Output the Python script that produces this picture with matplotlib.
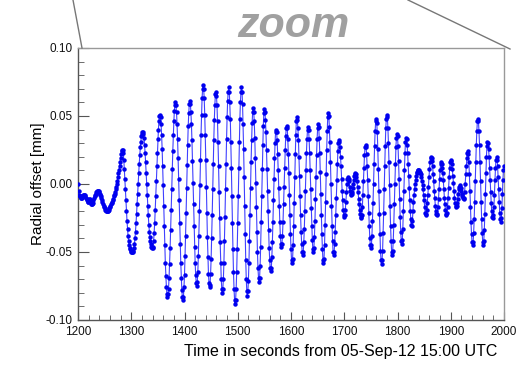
import numpy as np
import matplotlib
matplotlib.use("Agg")
import matplotlib.pyplot as plt
from matplotlib.lines import Line2D
from matplotlib.ticker import MultipleLocator, FormatStrFormatter

plt.rcParams['font.family'] = ['Liberation Sans', 'DejaVu Sans']
plt.rcParams['axes.unicode_minus'] = False

# radial offset, one sample per second, in micrometres
offset_1200s = [
    0, -5, -8, -9, -9, -10, -10, -10, -9, -9,
    -8, -8, -8, -8, -9, -10, -11, -12, -13, -13,
    -12, -11, -11, -12, -14, -15, -15, -15, -14, -12,
    -10, -9, -8, -7, -6, -6, -5, -5, -5, -5,
    -6, -7, -8, -9, -10, -12, -13, -15, -16, -17,
    -18, -19, -19, -20, -20, -20, -20, -20, -19, -18,
    -17, -16, -15, -14, -13, -12, -11, -9, -8, -7,
    -6, -4, -2, 0, 2, 5, 8, 10, 13, 16,
    19, 22, 24, 25, 25, 23, 18, 11, 4, -4,
    -12, -20, -27, -33, -38, -42, -45, -47, -48, -49,
]
offset_1300s = [
    -50, -50, -50, -50, -49, -47, -44, -40, -35, -29,
    -22, -15, -7, 0, 8, 15, 21, 27, 31, 35,
    37, 38, 38, 37, 34, 29, 23, 16, 8, 0,
    -8, -16, -23, -30, -35, -39, -42, -44, -46, -47,
    -47, -46, -42, -36, -29, -19, -9, 2, 13, 23,
    33, 40, 46, 50, 51, 49, 44, 36, 26, 13,
    -1, -16, -31, -45, -58, -68, -76, -81, -83, -81,
    -77, -69, -59, -47, -34, -19, -4, 11, 24, 36,
    46, 54, 58, 60, 58, 53, 44, 33, 19, 4,
    -12, -29, -44, -58, -69, -78, -83, -85, -83, -76,
]
offset_1400s = [
    -67, -53, -38, -21, -3, 14, 29, 43, 52, 59,
    61, 59, 53, 44, 32, 17, 1, -15, -31, -46,
    -58, -67, -73, -75, -72, -65, -53, -38, -20, -1,
    18, 36, 51, 63, 70, 73, 70, 63, 51, 36,
    18, -2, -21, -39, -54, -66, -73, -76, -74, -66,
    -55, -40, -23, -4, 15, 32, 47, 58, 66, 68,
    65, 58, 46, 31, 13, -6, -25, -43, -58, -70,
    -77, -80, -77, -70, -58, -42, -24, -4, 15, 33,
    49, 61, 68, 71, 68, 60, 48, 31, 12, -9,
    -29, -48, -65, -77, -85, -88, -85, -77, -65, -48,
]
offset_1500s = [
    -29, -9, 12, 31, 48, 60, 68, 71, 68, 59,
    44, 26, 5, -16, -37, -56, -70, -79, -82, -79,
    -71, -58, -42, -23, -3, 16, 32, 45, 53, 56,
    53, 46, 34, 19, 1, -17, -35, -50, -62, -69,
    -72, -69, -60, -46, -28, -9, 11, 29, 43, 52,
    55, 53, 47, 38, 25, 11, -5, -20, -34, -47,
    -56, -62, -64, -62, -54, -43, -28, -12, 4, 19,
    30, 38, 40, 38, 32, 22, 10, -3, -16, -28,
    -38, -44, -46, -44, -38, -28, -15, -2, 12, 25,
    35, 41, 43, 41, 33, 22, 8, -8, -23, -37,
]
offset_1600s = [
    -48, -56, -58, -55, -45, -31, -14, 5, 22, 36,
    46, 49, 47, 41, 32, 20, 6, -9, -23, -35,
    -44, -50, -52, -50, -43, -33, -20, -5, 10, 23,
    33, 40, 42, 40, 33, 23, 10, -4, -18, -31,
    -41, -48, -50, -47, -39, -27, -11, 5, 21, 33,
    41, 44, 42, 34, 23, 9, -7, -23, -37, -48,
    -56, -58, -55, -45, -30, -13, 7, 25, 39, 49,
    52, 50, 42, 31, 16, 0, -16, -31, -42, -50,
    -52, -50, -44, -35, -23, -10, 3, 15, 24, 30,
    32, 31, 27, 20, 13, 4, -5, -12, -19, -23,
]
offset_1700s = [
    -24, -23, -19, -13, -6, 0, 4, 5, 4, 2,
    -2, -5, -7, -8, -7, -6, -3, 0, 3, 6,
    7, 8, 7, 5, 2, -2, -6, -11, -15, -19,
    -22, -24, -25, -23, -17, -8, 2, 12, 21, 27,
    29, 27, 22, 13, 3, -9, -21, -31, -40, -45,
    -47, -45, -38, -27, -14, 0, 15, 28, 39, 46,
    48, 45, 38, 26, 11, -5, -22, -37, -49, -56,
    -59, -56, -49, -36, -21, -4, 13, 28, 41, 48,
    51, 49, 41, 30, 16, -1, -16, -31, -42, -50,
    -52, -49, -42, -30, -15, 0, 15, 27, 34, 37,
]
offset_1800s = [
    35, 28, 17, 4, -11, -24, -35, -42, -44, -41,
    -33, -20, -5, 10, 23, 31, 34, 33, 29, 23,
    15, 6, -3, -12, -20, -26, -30, -31, -27, -20,
    -13, -8, -4, 0, 3, 6, 8, 9, 10, 10,
    10, 9, 9, 8, 7, 5, 2, -1, -4, -8,
    -12, -17, -21, -23, -22, -19, -14, -8, -2, 5,
    11, 16, 19, 20, 19, 17, 13, 7, 2, -5,
    -10, -16, -20, -22, -23, -22, -17, -11, -4, 4,
    10, 15, 16, 15, 12, 8, 3, -4, -10, -15,
    -19, -22, -23, -21, -17, -10, -3, 5, 12, 16,
]
offset_1900s = [
    18, 17, 15, 11, 6, 1, -5, -10, -14, -16,
    -17, -16, -14, -11, -7, -4, -2, -1, -2, -3,
    -5, -7, -9, -10, -11, -10, -6, 0, 7, 13,
    19, 23, 24, 22, 16, 7, -5, -17, -28, -37,
    -43, -45, -43, -36, -26, -13, 2, 16, 29, 39,
    46, 48, 46, 39, 29, 16, 2, -13, -26, -36,
    -43, -45, -42, -34, -22, -7, 8, 20, 28, 31,
    30, 26, 20, 12, 3, -6, -14, -20, -24, -25,
    -23, -17, -8, 3, 12, 18, 20, 18, 13, 5,
    -4, -13, -21, -26, -28, -25, -18, -7, 3, 10,
    13,
]

blocks = [offset_1200s, offset_1300s, offset_1400s, offset_1500s,
          offset_1600s, offset_1700s, offset_1800s, offset_1900s]
for i, b in enumerate(blocks[:-1]):
    assert len(b) == 100, f"block {i} has {len(b)}"
assert len(offset_1900s) == 101, len(offset_1900s)

offset = np.concatenate(blocks) / 1000.0  # um -> mm
t = 1200 + np.arange(len(offset))

fig = plt.figure(figsize=(5.27, 3.65), dpi=100)
ax = fig.add_axes([78 / 527, 45 / 365, 426 / 527, 272 / 365])

ax.plot(t, offset, '-', color='#4040ff', lw=0.8, zorder=2)
ax.plot(t, offset, 'o', color='#0000ee', ms=3.2, mew=0, zorder=3)

ax.set_xlim(1200, 2000)
ax.set_ylim(-0.10, 0.10)
ax.xaxis.set_major_locator(MultipleLocator(100))
ax.xaxis.set_minor_locator(MultipleLocator(20))
ax.yaxis.set_major_locator(MultipleLocator(0.05))
ax.yaxis.set_minor_locator(MultipleLocator(0.01))
ax.yaxis.set_major_formatter(FormatStrFormatter('%.2f'))

ax.tick_params(axis='both', which='both', direction='in', top=False, right=False,
               colors='#555555', labelcolor='#111111', labelsize=8.5)
ax.tick_params(axis='y', which='major', length=8, pad=4)
ax.tick_params(axis='y', which='minor', length=4.5)
ax.tick_params(axis='x', which='major', length=6, pad=4)
ax.tick_params(axis='x', which='minor', length=3.5)

for side in ['left', 'bottom']:
    ax.spines[side].set_color('#555555')
for side in ['top', 'right']:
    ax.spines[side].set_color('#999999')
for s in ax.spines.values():
    s.set_linewidth(1.0)

ax.set_ylabel('Radial offset [mm]', fontsize=11)
ax.yaxis.set_label_coords(-0.077, 0.5)
ax.set_xlabel('Time in seconds from 05-Sep-12 15:00 UTC', fontsize=11.5, ha='right')
ax.xaxis.set_label_coords(0.984, -0.088)

# zoom callout above the axes
fig.add_artist(Line2D([73 / 527, 82 / 527], [1.0, 1 - 48 / 365], color='#777777', lw=1.0))
fig.add_artist(Line2D([408 / 527, 510 / 527], [1.0, 1 - 49 / 365], color='#777777', lw=1.0))
fig.text(293 / 527, 1 - 37 / 365, 'zoom', color='#a0a0a0', fontsize=31,
         fontweight='bold', fontstyle='italic', ha='center', va='baseline')

fig.savefig('out.png', dpi=100)
